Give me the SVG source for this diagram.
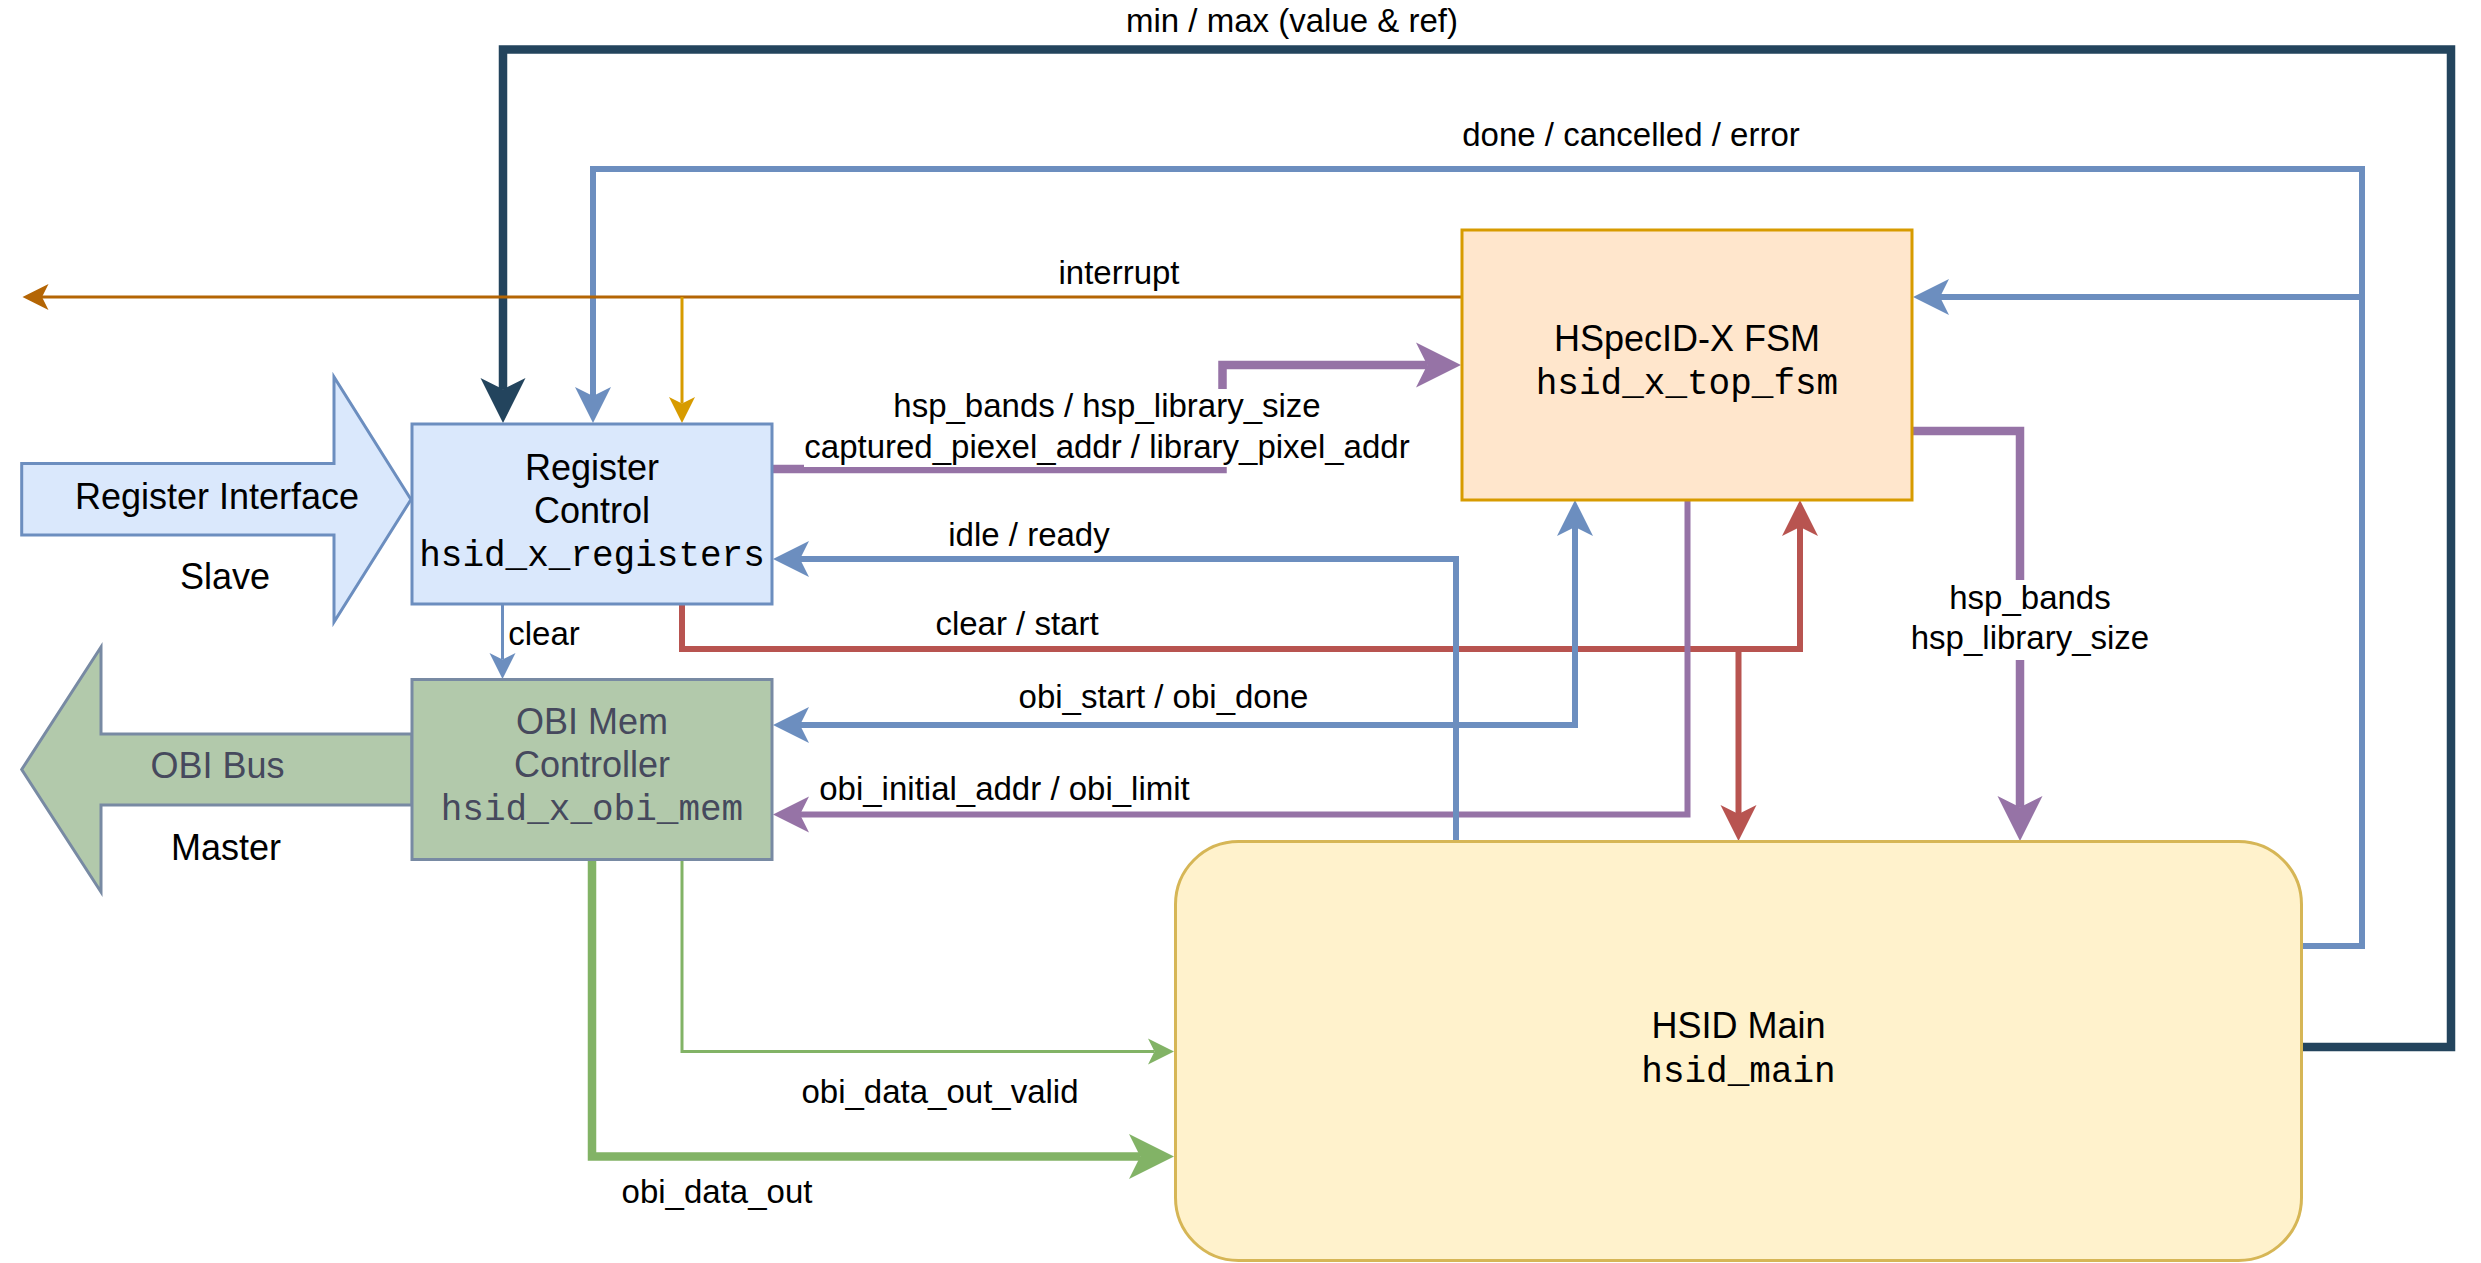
<svg xmlns="http://www.w3.org/2000/svg" width="2481" height="1263" viewBox="0 0 2481 1263">
<style>
text{font-family:"Liberation Sans",Arial,Helvetica,sans-serif;fill:#000;text-anchor:middle}
.n{font-size:36px}
.m{font-family:"Liberation Mono","Courier New",monospace;font-size:36px}
.l{font-size:33px}
.obi{fill:#46495d}
.bg{fill:#fff}
.e{fill:none;stroke-linejoin:miter}
.thick{stroke-width:8.5}
.med{stroke-width:6}
.thin{stroke-width:3}
</style>
<defs>
<marker id="aDarkL" markerUnits="userSpaceOnUse" orient="auto-start-reverse" markerWidth="1" markerHeight="1" overflow="visible"><path d="M33.75,0 L-11.25,-22.5 L0,0 L-11.25,22.5 Z" fill="#23445d"/></marker>
<marker id="aPurL" markerUnits="userSpaceOnUse" orient="auto-start-reverse" markerWidth="1" markerHeight="1" overflow="visible"><path d="M33.75,0 L-11.25,-22.5 L0,0 L-11.25,22.5 Z" fill="#9673a6"/></marker>
<marker id="aGrnL" markerUnits="userSpaceOnUse" orient="auto-start-reverse" markerWidth="1" markerHeight="1" overflow="visible"><path d="M33.75,0 L-11.25,-22.5 L0,0 L-11.25,22.5 Z" fill="#82b366"/></marker>
<marker id="aBluM" markerUnits="userSpaceOnUse" orient="auto-start-reverse" markerWidth="1" markerHeight="1" overflow="visible"><path d="M27,0 L-9,-18 L0,0 L-9,18 Z" fill="#6c8ebf"/></marker>
<marker id="aRedM" markerUnits="userSpaceOnUse" orient="auto-start-reverse" markerWidth="1" markerHeight="1" overflow="visible"><path d="M27,0 L-9,-18 L0,0 L-9,18 Z" fill="#b85450"/></marker>
<marker id="aPurM" markerUnits="userSpaceOnUse" orient="auto-start-reverse" markerWidth="1" markerHeight="1" overflow="visible"><path d="M27,0 L-9,-18 L0,0 L-9,18 Z" fill="#9673a6"/></marker>
<marker id="aOrgS" markerUnits="userSpaceOnUse" orient="auto-start-reverse" markerWidth="1" markerHeight="1" overflow="visible"><path d="M19.5,0 L-6.5,-13 L0,0 L-6.5,13 Z" fill="#b46504"/></marker>
<marker id="aOrlS" markerUnits="userSpaceOnUse" orient="auto-start-reverse" markerWidth="1" markerHeight="1" overflow="visible"><path d="M19.5,0 L-6.5,-13 L0,0 L-6.5,13 Z" fill="#d79b00"/></marker>
<marker id="aBluS" markerUnits="userSpaceOnUse" orient="auto-start-reverse" markerWidth="1" markerHeight="1" overflow="visible"><path d="M19.5,0 L-6.5,-13 L0,0 L-6.5,13 Z" fill="#6c8ebf"/></marker>
<marker id="aGrnS" markerUnits="userSpaceOnUse" orient="auto-start-reverse" markerWidth="1" markerHeight="1" overflow="visible"><path d="M19.5,0 L-6.5,-13 L0,0 L-6.5,13 Z" fill="#82b366"/></marker>
</defs>
<rect width="2481" height="1263" fill="#fff"/>

<g id="reg_interface">
<polygon points="21.7,463.5 334,463.5 334,377 411,499.5 334,622 334,535 21.7,535" fill="#dae8fc" stroke="#6c8ebf" stroke-width="3"/>
<text class="n" x="217" y="509">Register Interface</text>
<text class="n" x="225" y="589">Slave</text>
</g>

<g id="obi_bus">
<polygon points="412,734 101,734 101,647 21.7,769.5 101,892 101,805 412,805" fill="#b2c9ab" stroke="#788aa3" stroke-width="3"/>
<text class="n obi" x="217.5" y="778">OBI Bus</text>
<text class="n" x="226" y="860">Master</text>
</g>

<g id="connectors">
<path class="e thick" stroke="#23445d" d="M2302,1047 H2451 V49.5 H503 V389.25" marker-end="url(#aDarkL)"/>
<path class="e med" stroke="#6c8ebf" d="M2302,946 H2362 V169 H593 V396" marker-end="url(#aBluM)"/>
<path class="e med" stroke="#6c8ebf" d="M2302,946 H2362 V297 H1940" marker-end="url(#aBluM)"/>
<path class="e thick" stroke="#9673a6" d="M772,469 H1222.5 V365 H1427.25" marker-end="url(#aPurL)"/>
<path class="e thick" stroke="#9673a6" d="M1912,431 H2020 V807.25" marker-end="url(#aPurL)"/>
<path class="e med" stroke="#b85450" d="M682,604 V649 H1800 V527" marker-end="url(#aRedM)"/>
<path class="e med" stroke="#b85450" d="M1738.5,649 V814" marker-end="url(#aRedM)"/>
<path class="e med" stroke="#6c8ebf" d="M800,725 H1575 V527" marker-start="url(#aBluM)" marker-end="url(#aBluM)"/>
<path class="e med" stroke="#9673a6" d="M1687.5,500 V814.5 H800" marker-end="url(#aPurM)"/>
<path class="e med" stroke="#6c8ebf" d="M1456,841 V559 H800" marker-end="url(#aBluM)"/>
<path class="e thin" stroke="#b46504" d="M1462,297 H42" marker-end="url(#aOrgS)"/>
<path class="e thin" stroke="#d79b00" d="M682,297 V403.5" marker-end="url(#aOrlS)"/>
<path class="e thin" stroke="#6c8ebf" d="M502.5,604 V659.5" marker-end="url(#aBluS)"/>
<path class="e thin" stroke="#82b366" d="M682,859 V1051.5 H1154.5" marker-end="url(#aGrnS)"/>
<path class="e thick" stroke="#82b366" d="M592,859 V1156.5 H1140.25" marker-end="url(#aGrnL)"/>

<rect class="bg" x="1126" y="3" width="333" height="38"/>
<text class="l" x="1292" y="32">min / max (value &amp; ref)</text>
<rect class="bg" x="1461" y="117" width="341" height="38"/>
<text class="l" x="1631" y="146">done / cancelled / error</text>
<rect class="bg" x="1058" y="255" width="122" height="38"/>
<text class="l" x="1119" y="284">interrupt</text>
<rect class="bg" x="804" y="389" width="606" height="78"/>
<text class="l" x="1107" y="417">hsp_bands / hsp_library_size</text>
<text class="l" x="1107" y="457.5">captured_piexel_addr / library_pixel_addr</text>
<rect class="bg" x="947" y="517" width="164" height="38"/>
<text class="l" x="1029" y="546">idle / ready</text>
<rect class="bg" x="933" y="606" width="168" height="39"/>
<text class="l" x="1017" y="635">clear / start</text>
<text class="l" x="544" y="645">clear</text>
<rect class="bg" x="1017" y="679" width="293" height="38"/>
<text class="l" x="1163.5" y="708">obi_start / obi_done</text>
<rect class="bg" x="818" y="771" width="373" height="38"/>
<text class="l" x="1004.5" y="800">obi_initial_addr / obi_limit</text>
<rect class="bg" x="1911" y="580" width="239" height="80"/>
<text class="l" x="2030" y="609">hsp_bands</text>
<text class="l" x="2030" y="649">hsp_library_size</text>
<text class="l" x="940" y="1103">obi_data_out_valid</text>
<text class="l" x="717" y="1203">obi_data_out</text>
</g>

<g id="register_control">
<rect x="412" y="424" width="360" height="180" fill="#dae8fc" stroke="#6c8ebf" stroke-width="3"/>
<text class="n" x="592" y="480">Register</text>
<text class="n" x="592" y="523">Control</text>
<text class="m" x="592" y="566">hsid_x_registers</text>
</g>

<g id="obi_mem_controller">
<rect x="412" y="679.5" width="360" height="180" fill="#b2c9ab" stroke="#788aa3" stroke-width="3"/>
<text class="n obi" x="592" y="734">OBI Mem</text>
<text class="n obi" x="592" y="777">Controller</text>
<text class="m obi" x="592" y="820">hsid_x_obi_mem</text>
</g>

<g id="fsm">
<rect x="1462" y="230" width="450" height="270" fill="#ffe6cc" stroke="#d79b00" stroke-width="3"/>
<text class="n" x="1687" y="351">HSpecID-X FSM</text>
<text class="m" x="1687" y="394">hsid_x_top_fsm</text>
</g>

<g id="hsid_main">
<rect x="1175.5" y="841.5" width="1126" height="419" rx="63" ry="63" fill="#fff2cc" stroke="#d6b656" stroke-width="3"/>
<text class="n" x="1738.5" y="1038">HSID Main</text>
<text class="m" x="1738.5" y="1082">hsid_main</text>
</g>
</svg>
